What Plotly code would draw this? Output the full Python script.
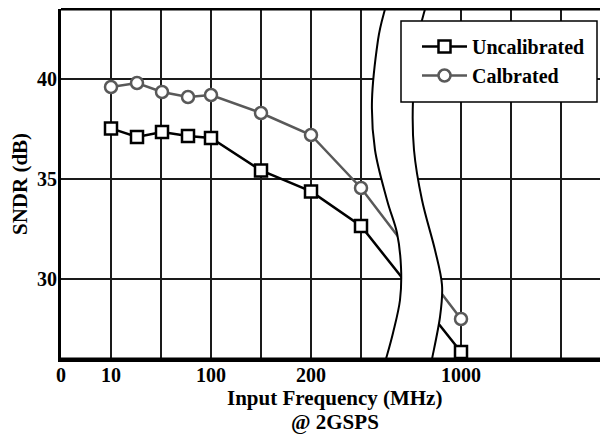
import plotly.graph_objects as go

# ---- data (x = position on the broken axis, 1 unit per grid cell) ----
x_pos = [1, 1.52, 2.02, 2.54, 3, 4, 5, 6, 8]
uncal = [37.53, 37.1, 37.35, 37.15, 37.05, 35.43, 34.38, 32.65, 26.35]
cal = [39.6, 39.8, 39.35, 39.1, 39.2, 38.3, 37.2, 34.55, 28.0]

tick_pos = list(range(0, 11))
tick_lbl = {0: "0", 1: "10", 3: "100", 5: "200", 8: "1000"}
tick_text = [tick_lbl.get(v, "") for v in tick_pos]
y_ticks = [30, 35, 40]

X_RANGE = [0, 10.94]
Y_RANGE = [26, 43.5]

FONT = "Liberation Serif"
PAGE_OFF = 8          # default body margin of the html page
L, T, PW, PH = 61, 9, 547, 350   # plot area in window pixels
W, H = 608 - PAGE_OFF, 436 - PAGE_OFF


def px_x(px):
    return (px - L) / PW


def px_y(py):
    return (T + PH - py) / PH


# ---- axis-break band (decoration) ----
left_curve = [(6.48, 43.5), (6.34, 41.95), (6.22, 38.95), (6.28, 36.45),
              (6.52, 33.95), (6.72, 32.3), (6.80, 30.6), (6.78, 28.95),
              (6.64, 27.3), (6.50, 26.0)]
right_curve = [(7.28, 43.5), (7.14, 41.95), (7.04, 38.95), (7.06, 36.45),
               (7.22, 33.95), (7.48, 31.45), (7.62, 29.7), (7.58, 28.1),
               (7.42, 26.0)]


def cr_path(pts, start=True):
    s = f"M{pts[0][0]},{pts[0][1]}" if start else f" L{pts[0][0]},{pts[0][1]}"
    n = len(pts)
    for i in range(n - 1):
        p0 = pts[i - 1] if i > 0 else pts[i]
        p1 = pts[i]
        p2 = pts[i + 1]
        p3 = pts[i + 2] if i + 2 < n else pts[i + 1]
        c1 = (p1[0] + (p2[0] - p0[0]) / 6, p1[1] + (p2[1] - p0[1]) / 6)
        c2 = (p2[0] - (p3[0] - p1[0]) / 6, p2[1] - (p3[1] - p1[1]) / 6)
        s += f" C{c1[0]:.4f},{c1[1]:.4f} {c2[0]:.4f},{c2[1]:.4f} {p2[0]:.4f},{p2[1]:.4f}"
    return s


fill_path = cr_path(left_curve) + cr_path(right_curve[::-1], start=False) + " Z"

fig = go.Figure()
fig.add_trace(go.Scatter(
    x=x_pos, y=uncal, name="Uncalibrated", mode="lines+markers",
    line=dict(color="black", width=2.5),
    marker=dict(symbol="square", size=12, color="white",
                line=dict(color="black", width=2.5)),
))
fig.add_trace(go.Scatter(
    x=x_pos, y=cal, name="Calbrated", mode="lines+markers",
    line=dict(color="#595959", width=2.5),
    marker=dict(symbol="circle", size=12, color="white",
                line=dict(color="#595959", width=2.5)),
))

shapes = [
    dict(type="path", path=fill_path, xref="x", yref="y", layer="above",
         fillcolor="white", line=dict(width=0)),
    dict(type="path", path=cr_path(left_curve), xref="x", yref="y",
         layer="above", line=dict(color="black", width=2)),
    dict(type="path", path=cr_path(right_curve), xref="x", yref="y",
         layer="above", line=dict(color="black", width=2)),
    dict(type="line", xref="paper", yref="paper", x0=0, x1=1.01, y0=1, y1=1,
         layer="above", line=dict(color="black", width=3)),
    dict(type="line", xref="paper", yref="paper", x0=0, x1=1.01, y0=0, y1=0,
         layer="above", line=dict(color="black", width=3)),
    # legend box
    dict(type="rect", xref="paper", yref="paper",
         x0=px_x(401), x1=px_x(597), y0=px_y(102), y1=px_y(21),
         layer="above", fillcolor="white", line=dict(color="black", width=1.5)),
]

fig.update_layout(
    width=W, height=H,
    margin=dict(l=L - PAGE_OFF, r=W - (L - PAGE_OFF) - PW, t=T - PAGE_OFF,
                b=H - (T - PAGE_OFF) - PH, autoexpand=False),
    paper_bgcolor="white", plot_bgcolor="white",
    showlegend=True,
    font=dict(family=FONT, size=20, color="black", weight="bold"),
    shapes=shapes,
    legend=dict(
        x=px_x(417), y=px_y(27), xanchor="left", yanchor="top",
        bgcolor="rgba(0,0,0,0)", borderwidth=0,
        font=dict(family=FONT, size=20, color="black", weight="bold"),
        tracegroupgap=0, itemwidth=45,
    ),
    annotations=[
        dict(text="Input Frequency (MHz)", xref="paper", yref="paper",
             x=0.5, y=px_y(398), xanchor="center", yanchor="middle",
             showarrow=False, font=dict(family=FONT, size=21, weight="bold")),
        dict(text="@ 2GSPS", xref="paper", yref="paper",
             x=0.5, y=px_y(422), xanchor="center", yanchor="middle",
             showarrow=False, font=dict(family=FONT, size=21, weight="bold")),
        dict(text="SNDR (dB)", xref="paper", yref="paper",
             x=px_x(20), y=0.5, xanchor="center", yanchor="middle",
             textangle=-90, showarrow=False,
             font=dict(family=FONT, size=21, weight="bold")),
    ],
)

fig.update_xaxes(
    range=X_RANGE, tickmode="array", tickvals=tick_pos, ticktext=tick_text,
    showgrid=True, gridcolor="#1a1a1a", gridwidth=1.5,
    showline=True, linecolor="black", linewidth=3, mirror=False,
    ticks="", zeroline=False, automargin=False, ticklabelstandoff=-4,
    tickfont=dict(family=FONT, size=20, color="black", weight="bold"),
)
fig.update_yaxes(
    range=Y_RANGE, tickmode="array", tickvals=y_ticks,
    showgrid=True, gridcolor="#1a1a1a", gridwidth=1.5,
    showline=True, linecolor="black", linewidth=3, mirror=False,
    ticks="", zeroline=False, automargin=False, ticklabelstandoff=-3,
    tickfont=dict(family=FONT, size=20, color="black", weight="bold"),
)

fig.write_html("out.html")
